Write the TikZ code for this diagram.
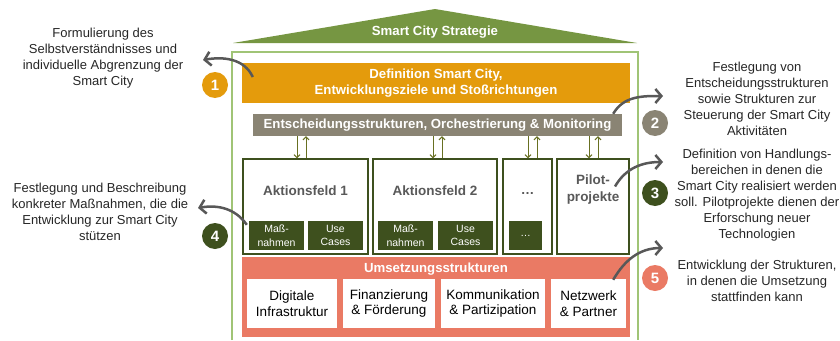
\documentclass[tikz,border=0pt]{standalone}
\usepackage{fontspec}
\setmainfont{Liberation Sans}
\usetikzlibrary{arrows.meta}
\definecolor{roofgreen}{RGB}{118,150,66}
\definecolor{framegreen}{RGB}{160,196,118}
\definecolor{scorange}{RGB}{228,155,12}
\definecolor{ctrlgrey}{RGB}{138,132,116}
\definecolor{linkolive}{RGB}{104,112,34}
\definecolor{darkgreen}{RGB}{62,80,30}
\definecolor{salmon}{RGB}{234,122,100}
\definecolor{calloutgrey}{RGB}{88,88,88}
\begin{document}
\begin{tikzpicture}[x=1pt,y=-1pt,
    bar/.style={inner sep=0pt,text=white,align=center,font=\bfseries\fontsize{13.2}{16}\selectfont},
    feld/.style={draw=darkgreen,line width=1.2pt,fill=white,inner sep=0pt,minimum height=95pt},
    feldtext/.style={text=black!65,align=center,font=\bfseries\fontsize{13.5}{17}\selectfont},
    sub/.style={fill=darkgreen,text=white,inner sep=0pt,minimum height=29pt,align=center,
      font=\fontsize{10.5}{13.5}\selectfont},
    umbox/.style={fill=white,inner sep=0pt,minimum height=49pt,align=center,
      font=\fontsize{13.5}{15.5}\selectfont},
    num/.style={circle,inner sep=0pt,minimum size=26pt,text=white,font=\bfseries\fontsize{15}{15}\selectfont},
    note/.style={align=center,text=black!85,font=\fontsize{13}{16}\selectfont},
    link/.style={linkolive,line width=1pt,-{Straight Barb[length=3pt,width=6pt]}},
    callout/.style={calloutgrey,line width=2.5pt,-{Straight Barb[length=6pt,width=14pt]}}]
  \useasboundingbox (0,0) rectangle (840,340);

  % roof and frame
  \fill[roofgreen] (233,43) -- (435,9) -- (637,43) -- cycle;
  \node[bar] (roof) at (435,32) {Smart City Strategie};
  \draw[framegreen,line width=1.5pt] (232,340) |- (638,52) -- (638,340);

  \node[bar,fill=scorange,minimum width=388pt,minimum height=40pt] (def) at (436,83)
    {Definition Smart City,\\Entwicklungsziele und Stoßrichtungen};
  \node[bar,fill=ctrlgrey,minimum width=369pt,minimum height=22pt] (ent) at (437.5,125)
    {Entscheidungsstrukturen, Orchestrierung \& Monitoring};

  % Aktionsfelder
  \node[feld,minimum width=125pt] (af1) at (305.5,206.5) {};
  \node[feld,minimum width=124pt] (af2) at (435,206.5) {};
  \node[feld,minimum width=49pt] (dots) at (527.5,206.5) {};
  \node[feld,minimum width=72pt] (pilot) at (593,206.5) {};
  \node[feldtext] (af1t) at (305.5,191) {Aktionsfeld 1};
  \node[feldtext] (af2t) at (435,191) {Aktionsfeld 2};
  \node[feldtext] (dotst) at (527.5,193) {\dots};
  \node[feldtext] (pilott) at (593,190) {Pilot-\\projekte};
  \node[sub,minimum width=55pt] (m1) at (276.5,235.5) {Maß-\\nahmen};
  \node[sub,minimum width=55pt] (u1) at (335.5,235.5) {Use\\Cases};
  \node[sub,minimum width=55pt] (m2) at (405.5,235.5) {Maß-\\nahmen};
  \node[sub,minimum width=55pt] (u2) at (465.5,235.5) {Use\\Cases};
  \node[sub,minimum width=33pt] (d1) at (525.5,235.5) {\dots};

  \foreach \n/\x in {af1/297,af2/433,dots/528,pilot/589} {
    \draw[link] (\x,0 |- ent.south) -- (\x,0 |- \n.north);
    \draw[link] (\x+9,0 |- \n.north) -- (\x+9,0 |- ent.south);
  }

  % Umsetzung
  \node[fill=salmon,minimum width=388pt,minimum height=80pt,inner sep=0pt] (ums) at (436,297) {};
  \node[bar] (umst) at (436,269) {Umsetzungsstrukturen};
  \node[umbox,minimum width=90pt] (b1) at (292,303.5) {Digitale\\Infrastruktur};
  \node[umbox,minimum width=92pt] (b2) at (389,303.5) {Finanzierung\\\& Förderung};
  \node[umbox,minimum width=104pt] (b3) at (493,303.5) {Kommunikation\\\& Partizipation};
  \node[umbox,minimum width=75pt] (b4) at (588.5,303.5) {Netzwerk\\\& Partner};

  % numbers and notes
  \node[num,fill=scorange] (n1) at (215,85) {1};
  \node[num,fill=ctrlgrey] (n2) at (655,123) {2};
  \node[num,fill=darkgreen] (n3) at (655,193) {3};
  \node[num,fill=darkgreen] (n4) at (215,236) {4};
  \node[num,fill=salmon] (n5) at (655,278) {5};

  \node[note] (t1) at (103,58) {Formulierung des\\Selbstverständnisses und\\individuelle Abgrenzung der\\Smart City};
  \node[note] (t4) at (100,212) {Festlegung und Beschreibung\\konkreter Maßnahmen, die die\\Entwicklung zur Smart City\\stützen};
  \node[note] (t2) at (757,99) {Festlegung von\\Entscheidungsstrukturen\\sowie Strukturen zur\\Steuerung der Smart City\\Aktivitäten};
  \node[note] (t3) at (757,195) {Definition von Handlungs-\\bereichen in denen die\\Smart City realisiert werden\\soll. Pilotprojekte dienen der\\Erforschung neuer\\Technologien};
  \node[note] (t5) at (757,281) {Entwicklung der Strukturen,\\in denen die Umsetzung\\stattfinden kann};

  \coordinate (e1) at (203,60);
  \coordinate (e2) at (663,96);
  \coordinate (e3) at (663,162);
  \coordinate (e4) at (198,208);
  \coordinate (e5) at (663,248);
  \draw[callout] ([xshift=11pt,yshift=6pt]def.west) to[out=115,in=10] (e1);
  \draw[callout] ([xshift=-9pt]ent.north east) to[out=60,in=180] (e2);
  \draw[callout] ([xshift=22pt,yshift=20pt]pilot.center) to[out=60,in=180] (e3);
  \draw[callout] ([xshift=-2pt,yshift=-4pt]m1.north west) to[out=125,in=10] (e4);
  \draw[callout] ([xshift=-17pt,yshift=-23pt]ums.north east) to[out=60,in=180] (e5);
\end{tikzpicture}
\end{document}
